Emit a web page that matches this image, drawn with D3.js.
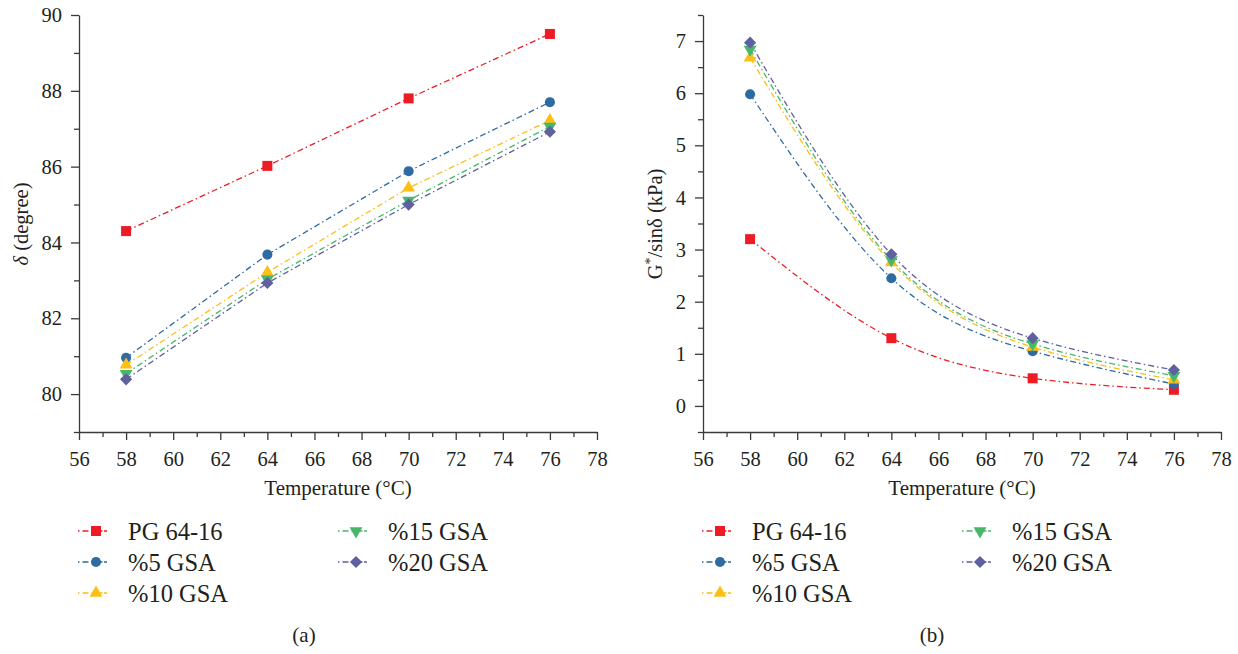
<!DOCTYPE html>
<html>
<head>
<meta charset="utf-8">
<script src="https://cdn.jsdelivr.net/npm/d3@7"></script>
<style>
  body { margin: 0; background: #fff; }
  svg { display: block; font-family: "Liberation Serif", "DejaVu Serif", serif; }
  .axis path, .axis line { stroke: #3a3a3a; stroke-width: 1.3; }
  .axis text { font-size: 20.5px; fill: #231f20; font-family: "Liberation Serif", serif; }
</style>
</head>
<body>
<div class="chart-area"></div>
<script>
// Temperatures on the x axis
const temps = [58, 64, 70, 76];

// Series labels, in legend order
const seriesNames = ["PG 64-16", "%5 GSA", "%10 GSA", "%15 GSA", "%20 GSA"];

// (a) phase angle, degrees
const deltaPG = [84.3, 86.02, 87.8, 89.5];
const delta5 = [80.96, 83.68, 85.88, 87.7];
const delta10 = [80.77, 83.21, 85.44, 87.22];
const delta15 = [80.54, 83.03, 85.11, 87.06];
const delta20 = [80.39, 82.93, 85.0, 86.92];

// (b) G*/sin(delta), kPa
const gPG = [3.2, 1.3, 0.53, 0.31];
const g5 = [5.98, 2.45, 1.05, 0.42];
const g10 = [6.68, 2.75, 1.13, 0.5];
const g15 = [6.84, 2.8, 1.19, 0.58];
const g20 = [6.97, 2.91, 1.3, 0.69];

// Tick values
const xMajor = [56, 58, 60, 62, 64, 66, 68, 70, 72, 74, 76, 78];
const xMinor = [57, 59, 61, 63, 65, 67, 69, 71, 73, 75, 77];
const yMajorA = [80, 82, 84, 86, 88, 90];
const yMinorA = [79, 81, 83, 85, 87, 89];
const yMajorB = [0, 1, 2, 3, 4, 5, 6, 7];
const yMinorB = [-0.5, 0.5, 1.5, 2.5, 3.5, 4.5, 5.5, 6.5, 7.5];

// Colours and marker shapes per series
const colors = ["#ed1c24", "#2e6aa3", "#fcbf16", "#47b86b", "#5f609f"];
const shapes = ["square", "circle", "triangle", "triangleDown", "diamond"];

const svg = d3.select(".chart-area")
    .append("svg")
    .attr("width", 1238)
    .attr("height", 654);

function markerPath(shape) {
    if (shape === "square") return d3.symbol(d3.symbolSquare, 100)();
    if (shape === "circle") return d3.symbol(d3.symbolCircle, 80)();
    if (shape === "triangle" || shape === "triangleDown") return d3.symbol(d3.symbolTriangle, 72)();
    return d3.symbol(d3.symbolSquare, 74)();
}
function markerRotate(shape) {
    if (shape === "triangleDown") return 180;
    if (shape === "diamond") return 45;
    return 0;
}

function drawPanel(p) {
    const x = d3.scaleLinear().domain([56, 78]).range([p.left, p.right]);
    const y = d3.scaleLinear().domain(p.yDomain).range([432, 15]);

    // x axis: major + minor ticks
    svg.append("g").attr("class", "axis")
        .attr("transform", "translate(0,432)")
        .call(d3.axisBottom(x).tickValues(xMajor).tickSize(8).tickSizeOuter(0).tickPadding(11));
    svg.append("g").attr("class", "axis")
        .attr("transform", "translate(0,432)")
        .call(d3.axisBottom(x).tickValues(xMinor).tickSize(5).tickSizeOuter(0).tickFormat(""))
        .select(".domain").remove();

    // y axis
    svg.append("g").attr("class", "axis")
        .attr("transform", `translate(${p.left},0)`)
        .call(d3.axisLeft(y).tickValues(p.yMajor).tickSize(8).tickSizeOuter(0).tickPadding(9));
    svg.append("g").attr("class", "axis")
        .attr("transform", `translate(${p.left},0)`)
        .call(d3.axisLeft(y).tickValues(p.yMinor).tickSize(5).tickSizeOuter(0).tickFormat(""))
        .select(".domain").remove();

    // lines
    const line = d3.line()
        .x((d, i) => x(temps[i]))
        .y(d => y(d))
        .curve(p.curve);

    p.series.forEach((vals, k) => {
        svg.append("path")
            .attr("d", line(vals))
            .attr("fill", "none")
            .attr("stroke", colors[k])
            .attr("stroke-width", 1.3)
            .attr("stroke-dasharray", "6,3,1.5,3");
    });
    p.series.forEach((vals, k) => {
        svg.append("g").selectAll("path")
            .data(vals)
            .enter()
            .append("path")
            .attr("d", markerPath(shapes[k]))
            .attr("transform", (d, i) => `translate(${x(temps[i])},${y(d)}) rotate(${markerRotate(shapes[k])})`)
            .attr("fill", colors[k]);
    });

    // axis titles
    svg.append("text")
        .attr("x", (p.left + p.right) / 2)
        .attr("y", 495)
        .attr("text-anchor", "middle")
        .attr("font-size", 21)
        .attr("fill", "#231f20")
        .text("Temperature (°C)");

    const yl = svg.append("text")
        .attr("transform", `translate(${p.yLabelX},224) rotate(-90)`)
        .attr("text-anchor", "middle")
        .attr("font-size", 20.5)
        .attr("fill", "#231f20");
    p.yLabel(yl);

    // legend: 3 rows in first column, 2 in second
    seriesNames.forEach((name, k) => {
        const col = k < 3 ? 0 : 1;
        const row = k < 3 ? k : k - 3;
        const lx = p.legendX[col];
        const ly = 531 + row * 31;
        const g = svg.append("g");
        g.append("line")
            .attr("x1", lx).attr("x2", lx + 35)
            .attr("y1", ly).attr("y2", ly)
            .attr("stroke", colors[k])
            .attr("stroke-width", 1.3)
            .attr("stroke-dasharray", "1.5,3,6,3,1,0,10");
        g.append("path")
            .attr("d", markerPath(shapes[k]))
            .attr("transform", `translate(${lx + 18},${ly}) rotate(${markerRotate(shapes[k])})`)
            .attr("fill", colors[k]);
        g.append("text")
            .attr("x", lx + 50)
            .attr("y", ly + 8.5)
            .attr("font-size", 24.5)
            .attr("fill", "#231f20")
            .text(name);
    });

    svg.append("text")
        .attr("x", p.captionX)
        .attr("y", 642)
        .attr("text-anchor", "middle")
        .attr("font-size", 21)
        .attr("fill", "#231f20")
        .text(p.caption);
}

drawPanel({
    left: 79, right: 597,
    yDomain: [79, 90],
    yMajor: yMajorA, yMinor: yMinorA,
    series: [deltaPG, delta5, delta10, delta15, delta20],
    curve: d3.curveLinear,
    yLabelX: 28,
    yLabel: t => {
        t.append("tspan").attr("font-style", "italic").text("δ");
        t.append("tspan").text(" (degree)");
    },
    legendX: [78, 338],
    captionX: 304,
    caption: "(a)"
});

drawPanel({
    left: 703, right: 1221,
    yDomain: [-0.5, 7.5],
    yMajor: yMajorB, yMinor: yMinorB,
    series: [gPG, g5, g10, g15, g20],
    curve: d3.curveNatural,
    yLabelX: 662,
    yLabel: t => {
        t.append("tspan").text("G");
        t.append("tspan").attr("dy", -7).attr("font-size", 14).text("*");
        t.append("tspan").attr("dy", 7).text("/sinδ (kPa)");
    },
    legendX: [702, 962],
    captionX: 932,
    caption: "(b)"
});
</script>
</body>
</html>
